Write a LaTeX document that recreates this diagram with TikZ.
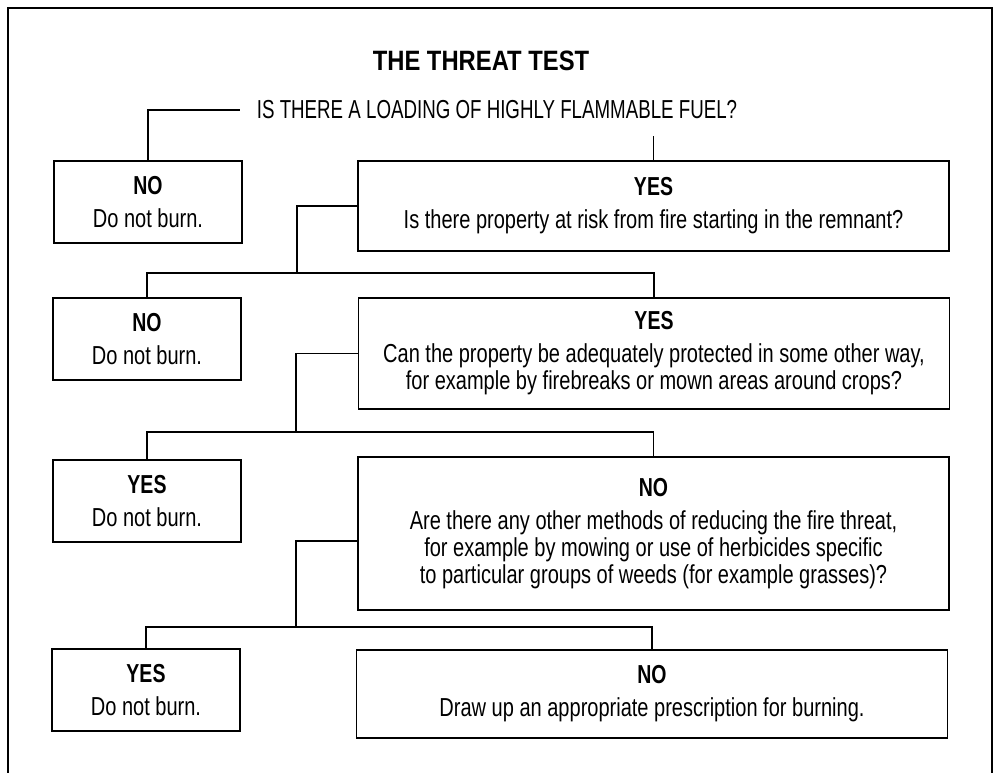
\documentclass[tikz,border=0pt]{standalone}
\usepackage{fontspec}
\setmainfont{Liberation Sans}[FakeStretch=0.77]
\newfontfamily\headfont{Liberation Sans Bold}[FakeStretch=0.75]
\newfontfamily\capsfont{Liberation Sans}[FakeStretch=0.72]
\newfontfamily\titlefont{Liberation Sans Bold}[FakeStretch=0.85]
\usetikzlibrary{calc}

\newcommand{\hd}[1]{{\headfont #1}}

\begin{document}
\begin{tikzpicture}[x=1pt,y=-1pt,line width=1.8pt,
    font=\fontsize{26}{27}\selectfont,
    box/.style={draw,align=center,inner sep=0pt},
    small/.style={box,minimum width=188pt,minimum height=82pt},
    wide/.style={box,minimum width=591pt}]
  \useasboundingbox (0,0) rectangle (996,773);
  % frame, open at the foot
  \draw (8,773) -- (8,8) -- (992,8) -- (992,773);

  % --- heading and first question ---
  \node[font=\fontsize{28}{30}\titlefont] (title) at (481,61) {THE THREAT TEST};
  \node[font=\fontsize{26}{27}\capsfont,inner sep=16pt] (q) at (497,110)
    {IS THERE A LOADING OF HIGHLY FLAMMABLE FUEL?};

  % --- answers, row by row ---
  \node[small] (no1) at (148,202) {\hd{NO}\\[6pt]Do not burn.};
  \node[wide,minimum height=90pt] (yes1) at (653.5,206)
    {\hd{YES}\\[6pt]Is there property at risk from fire starting in the remnant?};

  \node[small] (no2) at (147,339) {\hd{NO}\\[6pt]Do not burn.};
  \node[wide,minimum height=111pt] (yes2) at (654,353.5)
    {\hd{YES}\\[6pt]Can the property be adequately protected in some other way,\\
     for example by firebreaks or mown areas around crops?};

  \node[small] (yes3) at (147,501) {\hd{YES}\\[6pt]Do not burn.};
  \node[wide,minimum height=153pt] (no3) at (653.5,533.5)
    {\hd{NO}\\[6pt]Are there any other methods of reducing the fire threat,\\
     for example by mowing or use of herbicides specific\\
     to particular groups of weeds (for example grasses)?};

  \node[small] (yes4) at (146,690) {\hd{YES}\\[6pt]Do not burn.};
  \node[wide,minimum height=88pt] (no4) at (652,694)
    {\hd{NO}\\[6pt]Draw up an appropriate prescription for burning.};

  % --- branch points ---
  \coordinate (b1) at (297,273);
  \coordinate (b2) at (296,432);
  \coordinate (b3) at (296,627);

  % connectors
  \draw (q.west) -| (no1.north);
  \draw (q.south -| yes1.north) -- (yes1.north);
  \draw (yes1.west) -| (b1);
  \draw (no2.north) |- (b1) -| (yes2.north);
  \draw (yes2.west) -| (b2);
  \draw (yes3.north) |- (b2) -| (no3.north);
  \draw ([yshift=-7.5pt]no3.west) -| (b3);
  \draw (yes4.north) |- (b3) -| (no4.north);
\end{tikzpicture}
\end{document}
